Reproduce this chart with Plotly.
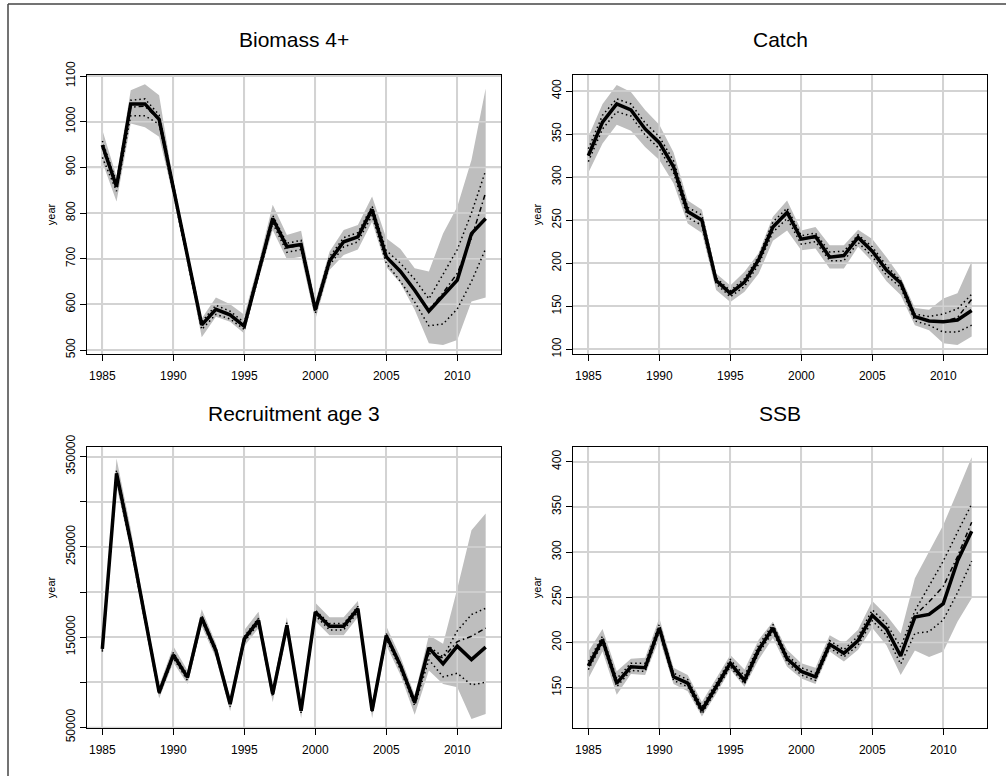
import plotly.graph_objects as go
from plotly.subplots import make_subplots

# Stock assessment summary: estimate (solid), median (dash-dot),
# inner interval (dotted) and outer interval (grey band)

years = list(range(1985, 2013))

# Biomass 4+
bio_est = [949, 858, 1039, 1039, 1005, 853, 704, 555, 589, 577, 552, 670, 788, 726,
           731, 588, 695, 737, 748, 808, 704, 672, 631, 585, 620, 653, 755, 788]
bio_hi = [982, 880, 1069, 1082, 1058, 868, 718, 569, 615, 600, 577, 690, 818, 752,
          761, 606, 715, 763, 774, 836, 745, 721, 679, 672, 755, 814, 916, 1073]
bio_lo = [912, 825, 996, 988, 967, 835, 690, 528, 573, 562, 536, 655, 763, 699,
          704, 567, 675, 708, 720, 781, 682, 646, 588, 515, 511, 522, 606, 615]
bio_q_hi = [958, 868, 1047, 1050, 1015, 860, 711, 562, 598, 585, 560, 678, 795, 734,
            740, 595, 704, 746, 757, 815, 718, 690, 655, 612, 665, 720, 800, 893]
bio_q_lo = [922, 848, 1013, 1013, 995, 845, 697, 545, 578, 568, 545, 662, 778, 714,
            720, 580, 686, 726, 737, 795, 690, 650, 605, 553, 557, 590, 650, 722]
bio_med = [942, 858, 1032, 1034, 1004, 852, 703, 553, 588, 576, 552, 670, 786, 724,
           730, 587, 695, 736, 747, 805, 704, 672, 631, 588, 625, 668, 745, 845]

# Catch
cat_est = [325, 364, 385, 378, 356, 340, 312, 260, 250, 180, 165, 178, 204, 242,
           259, 228, 231, 207, 209, 230, 214, 192, 177, 138, 133, 132, 134, 145]
cat_hi = [347, 385, 407, 399, 378, 361, 329, 273, 262, 188, 174, 190, 212, 254,
          273, 238, 242, 221, 221, 239, 228, 207, 184, 148, 146, 159, 165, 202]
cat_lo = [305, 339, 361, 354, 335, 320, 293, 246, 235, 169, 155, 167, 188, 226,
          238, 215, 217, 194, 194, 219, 202, 179, 163, 128, 122, 107, 105, 115]
cat_q_hi = [333, 372, 391, 385, 363, 347, 319, 265, 256, 183, 168, 182, 208, 248,
            264, 232, 235, 213, 214, 233, 219, 197, 180, 141, 138, 141, 147, 164]
cat_q_lo = [318, 356, 376, 371, 349, 333, 305, 253, 244, 176, 161, 173, 199, 236,
            252, 222, 225, 203, 203, 224, 208, 186, 172, 133, 128, 120, 120, 128]
cat_med = [325, 364, 384, 378, 356, 340, 312, 259, 250, 180, 165, 178, 204, 242,
           258, 228, 230, 208, 209, 229, 214, 192, 177, 138, 133, 132, 137, 158]

# Recruitment age 3
rec_est = [137000, 331500, 255500, 170400, 88900, 130400, 105500, 171500, 135200, 75900,
           148100, 168500, 87000, 163000, 68500, 177800, 162200, 162200, 181500, 68500,
           151800, 118500, 77800, 138100, 120400, 140000, 125200, 138900]
rec_hi = [145000, 348000, 270000, 180000, 96000, 140000, 113000, 181000, 143000, 83000,
          158000, 178000, 96000, 172000, 76000, 188000, 172000, 172000, 190000, 76000,
          162000, 128000, 86000, 152000, 142600, 203700, 268500, 287000]
rec_lo = [128000, 318000, 245000, 162000, 82000, 122000, 98000, 162000, 127000, 68000,
          140000, 160000, 78000, 154000, 60000, 168000, 152000, 152000, 172000, 60000,
          141000, 108000, 64000, 113000, 98100, 94400, 59200, 64800]
rec_q_hi = [139000, 335000, 260000, 174000, 91000, 133000, 108000, 174000, 138000, 78000,
            151000, 171000, 90000, 166000, 71000, 180000, 165000, 165000, 184000, 71000,
            154000, 121000, 80000, 140000, 128000, 157000, 175000, 182000]
rec_q_lo = [134000, 326000, 250000, 167000, 86000, 127000, 102000, 168000, 132000, 73000,
            145000, 165000, 84000, 160000, 66000, 174000, 158000, 158000, 178000, 66000,
            148000, 114000, 74000, 125000, 106000, 110000, 97000, 100000]
rec_med = [136000, 330000, 254000, 170000, 88500, 130000, 105000, 171000, 135000, 75500,
           148000, 168000, 87000, 163000, 68500, 177000, 161500, 161500, 181000, 68500,
           151000, 118000, 77500, 132000, 127000, 145000, 151000, 160000]

# SSB
ssb_est = [174, 203, 155, 173, 172, 216, 162, 155, 125, 151, 177, 158, 192, 216,
           182, 168, 162, 198, 188, 202, 230, 215, 185, 228, 231, 243, 290, 323]
ssb_hi = [190, 215, 168, 182, 183, 227, 172, 164, 134, 160, 186, 170, 203, 223,
          192, 177, 172, 208, 199, 214, 246, 230, 210, 271, 300, 330, 367, 405]
ssb_lo = [160, 190, 142, 165, 164, 204, 154, 146, 118, 143, 170, 151, 181, 205,
          173, 160, 154, 190, 179, 192, 216, 197, 164, 191, 184, 190, 223, 249]
ssb_q_hi = [179, 207, 160, 177, 177, 220, 166, 159, 129, 155, 181, 163, 197, 220,
            186, 172, 166, 202, 192, 207, 236, 221, 195, 235, 262, 290, 322, 353]
ssb_q_lo = [170, 199, 151, 169, 168, 212, 158, 151, 121, 147, 173, 154, 188, 212,
            178, 164, 158, 194, 184, 197, 224, 208, 176, 210, 212, 225, 255, 290]
ssb_med = [174, 203, 155, 173, 172, 216, 162, 155, 125, 151, 177, 158, 192, 216,
           182, 168, 162, 198, 188, 202, 230, 215, 186, 230, 245, 262, 295, 333]

titles = ["Biomass 4+", "Catch", "Recruitment age 3", "SSB"]

bio_ticks = [500, 600, 700, 800, 900, 1000, 1100]
cat_ticks = [100, 150, 200, 250, 300, 350, 400]
rec_ticks = [50000, 100000, 150000, 200000, 250000, 300000, 350000]
rec_ticktext = ["50000", "", "150000", "", "250000", "", "350000"]
ssb_ticks = [150, 200, 250, 300, 350, 400]
year_ticks = [1985, 1990, 1995, 2000, 2005, 2010]

panels = [
    (1, 1, bio_est, bio_hi, bio_lo, bio_q_hi, bio_q_lo, bio_med, bio_ticks, None, [490.6, 1103]),
    (1, 2, cat_est, cat_hi, cat_lo, cat_q_hi, cat_q_lo, cat_med, cat_ticks, None, [94.2, 419]),
    (2, 1, rec_est, rec_hi, rec_lo, rec_q_hi, rec_q_lo, rec_med, rec_ticks, rec_ticktext, [49000, 361000]),
    (2, 2, ssb_est, ssb_hi, ssb_lo, ssb_q_hi, ssb_q_lo, ssb_med, ssb_ticks, None, [105, 416.6]),
]

W, H = 1006, 776
FONT = "Liberation Sans, Arial, sans-serif"
DOT = "1.5px,3px"
DOTDASH = "1.5px,3px,5px,3px"
GRID = "#d3d3d3"
XR = [1983.92, 2013.08]

fig = make_subplots(rows=2, cols=2)

for r, c, est, hi, lo, qhi, qlo, med, yt, ytt, yr in panels:
    fig.add_trace(go.Scatter(x=years + years[::-1], y=hi + lo[::-1], fill="toself",
                             fillcolor="#bebebe", line=dict(width=0), mode="lines",
                             hoverinfo="skip"), row=r, col=c)
    # grid drawn over the band, under the lines (as in the original)
    gx, gy = [], []
    for t in year_ticks:
        gx += [t, t, None]
        gy += [yr[0], yr[1], None]
    for t in yt:
        gx += [XR[0], XR[1], None]
        gy += [t, t, None]
    fig.add_trace(go.Scatter(x=gx, y=gy, mode="lines", line=dict(color=GRID, width=1.5),
                             hoverinfo="skip"), row=r, col=c)
    for s in (qhi, qlo):
        fig.add_trace(go.Scatter(x=years, y=s, mode="lines",
                                 line=dict(color="black", width=1.5, dash=DOT)), row=r, col=c)
    fig.add_trace(go.Scatter(x=years, y=med, mode="lines",
                             line=dict(color="black", width=1.5, dash=DOTDASH)), row=r, col=c)
    fig.add_trace(go.Scatter(x=years, y=est, mode="lines",
                             line=dict(color="black", width=3.5)), row=r, col=c)
    fig.update_xaxes(range=XR, tickvals=year_ticks, row=r, col=c)
    fig.update_yaxes(range=yr, tickvals=yt, ticktext=ytt if ytt else [str(v) for v in yt],
                     title_text="year", row=r, col=c)

# plot areas in pixels: left/right columns and top/bottom rows
xdom = [[87 / W, 501 / W], [573 / W, 987 / W]]
ydom = [[1 - 354.3 / H, 1 - 74.7 / H], [1 - 728.3 / H, 1 - 446.7 / H]]
for i in range(4):
    r, c = divmod(i, 2)
    sfx = "" if i == 0 else str(i + 1)
    fig.layout["xaxis" + sfx].domain = xdom[c]
    fig.layout["yaxis" + sfx].domain = ydom[r]
    fig.add_annotation(text=titles[i], xref="paper", yref="paper",
                       x=sum(xdom[c]) / 2, y=(1 - 39 / H) if r == 0 else (1 - 413 / H),
                       showarrow=False, xanchor="center", yanchor="middle",
                       font=dict(size=21, color="black", family=FONT))

axis_style = dict(showline=True, mirror=True, linecolor="black", linewidth=1,
                  ticks="outside", ticklen=6, tickcolor="black", tickwidth=1,
                  showgrid=True, gridcolor=GRID, gridwidth=1.5, zeroline=False,
                  tickfont=dict(size=12, color="black", family=FONT), automargin=False)
fig.update_xaxes(**axis_style, ticklabelstandoff=4)
fig.update_yaxes(**axis_style, tickangle=-90,
                 title_font=dict(size=11, color="black", family=FONT), title_standoff=6)

# outer frame (top and left edges visible)
fig.add_shape(type="line", xref="paper", yref="paper", x0=8 / W, x1=1, y0=1 - 4 / H, y1=1 - 4 / H,
              line=dict(color="#444444", width=1.5))
fig.add_shape(type="line", xref="paper", yref="paper", x0=8 / W, x1=8 / W, y0=0, y1=1 - 4 / H,
              line=dict(color="#444444", width=1.5))

fig.update_layout(width=W, height=H, margin=dict(l=0, r=0, t=0, b=0),
                  showlegend=False, plot_bgcolor="white", paper_bgcolor="white",
                  font=dict(family=FONT))

fig.write_html("out.html", config={"displayModeBar": False},
               post_script="document.body.style.margin='0px';")
